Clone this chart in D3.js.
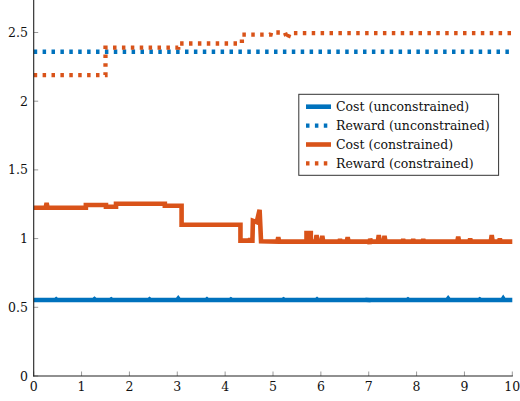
<!DOCTYPE html>
<html><head><meta charset="utf-8">
<script src="https://cdn.jsdelivr.net/npm/d3@7"></script>
<style>body{margin:0;background:#fff;} svg{display:block;} text{font-family:"DejaVu Serif",serif;}</style>
</head><body>
<svg id="c" width="520" height="401"></svg>
<script>
const xTicks = [0,1,2,3,4,5,6,7,8,9,10];
const yTicks = [0,0.5,1,1.5,2,2.5];
const yTickLabels = ["0","0.5","1","1.5","2","2.5"];
const seriesNames = ["Cost (unconstrained)","Reward (unconstrained)","Cost (constrained)","Reward (constrained)"];

const rewardUnconstrained = [[0,2.36],[10,2.36]];
const rewardConstrained = [[0,2.19],[1.50,2.19],[1.50,2.39],[3.02,2.39],[3.02,2.42],[4.35,2.42],[4.35,2.485],[4.95,2.485],[4.96,2.50],[5.25,2.50],[5.30,2.45],[5.35,2.495],[10,2.495]];
const costUnconstrained = [[0,0.553],[0.45,0.553],[0.47,0.558],[0.49,0.553],[1.25,0.553],[1.27,0.559],[1.29,0.553],[1.6,0.553],[1.62,0.557],[1.64,0.553],
 [2.4,0.553],[2.42,0.558],[2.44,0.553],[3.0,0.553],[3.02,0.562],[3.04,0.553],[3.6,0.553],[3.62,0.558],[3.64,0.553],[4.1,0.553],[4.12,0.557],[4.14,0.553],
 [5.2,0.553],[5.22,0.557],[5.24,0.553],[5.9,0.553],[5.92,0.558],[5.94,0.553],[6.97,0.553],[6.98,0.568],[6.99,0.538],[7.0,0.553],[7.8,0.553],[7.82,0.557],[7.84,0.553],
 [8.64,0.553],[8.66,0.562],[8.68,0.553],[9.3,0.553],[9.32,0.557],[9.34,0.553],[9.79,0.553],[9.81,0.563],[9.83,0.553],[10,0.553]];
const costConstrained = [[0,1.225],[0.25,1.225],[0.27,1.26],[0.29,1.225],[1.09,1.225],[1.09,1.245],[1.51,1.245],[1.51,1.232],[1.72,1.232],[1.72,1.254],
 [2.74,1.254],[2.74,1.239],[3.09,1.239],[3.09,1.101],[4.32,1.101],[4.32,0.985],[4.50,0.985],[4.52,1.0],[4.54,0.985],[4.57,0.985],[4.58,1.13],[4.66,1.12],[4.72,1.21],[4.75,0.98],
 [5.09,0.978],[5.11,1.01],[5.13,0.978],[5.70,0.978],[5.70,1.04],[5.79,1.04],[5.79,0.978],[5.89,0.978],[5.91,1.025],[5.93,0.978],[6.01,0.978],[6.03,1.02],[6.05,0.978],
 [6.38,0.978],[6.40,0.995],[6.42,0.978],[6.54,0.978],[6.56,1.01],[6.58,0.978],[7.01,0.978],[7.02,0.96],[7.03,1.0],[7.05,0.978],[7.19,0.978],[7.21,1.025],[7.23,0.978],
 [7.31,0.978],[7.33,1.02],[7.35,0.978],[7.70,0.978],[7.72,0.995],[7.74,0.978],[7.91,0.978],[7.93,0.995],[7.95,0.978],[8.12,0.978],[8.14,0.995],[8.16,0.978],
 [8.85,0.978],[8.87,1.014],[8.89,0.978],[9.10,0.978],[9.12,1.0],[9.14,0.978],[9.55,0.978],[9.57,1.026],[9.59,0.978],[9.72,0.978],[9.74,1.0],[9.76,0.978],[10,0.978]];

const blue = "#0072bd", orange = "#d95319";
const svg = d3.select("#c");
const x = d3.scaleLinear().domain([0,10]).range([33.7,512.3]);
const y = d3.scaleLinear().domain([0,2.75]).range([376,-1.85]);
const line = d3.line().x(d=>x(d[0])).y(d=>y(d[1]));

const g = svg.append("g");
g.selectAll(".xt").data(xTicks).join("line")
  .attr("x1",d=>x(d)).attr("x2",d=>x(d)).attr("y1",376).attr("y2",371.5)
  .attr("stroke","#9a9a9a").attr("stroke-width",1);
g.selectAll(".yt").data(yTicks).join("line")
  .attr("x1",33.7).attr("x2",38.2).attr("y1",d=>y(d)).attr("y2",d=>y(d))
  .attr("stroke","#9a9a9a").attr("stroke-width",1);

const series = [
  {d:costUnconstrained,c:blue,dash:null,w:4.6},
  {d:rewardUnconstrained,c:blue,dash:"3.5,5.4",w:4.3},
  {d:costConstrained,c:orange,dash:null,w:4.6},
  {d:rewardConstrained,c:orange,dash:"3.5,5.4",w:4.3}
];
svg.append("g").selectAll("path").data(series).join("path")
  .attr("d",s=>line(s.d)).attr("fill","none").attr("stroke",s=>s.c)
  .attr("stroke-width",s=>s.w).attr("stroke-dasharray",s=>s.dash)
  .attr("stroke-linejoin","miter").attr("stroke-miterlimit",2);

svg.append("line").attr("x1",33.7).attr("x2",33.7).attr("y1",0).attr("y2",376.5).attr("stroke","#222").attr("stroke-width",1.1);
svg.append("line").attr("x1",33.2).attr("x2",512.8).attr("y1",376).attr("y2",376).attr("stroke","#222").attr("stroke-width",1.1);

svg.append("g").selectAll("text").data(xTicks).join("text")
  .attr("x",d=>x(d)).attr("y",391).attr("text-anchor","middle")
  .attr("font-size",12.5).attr("fill","#111").text(d=>d);
svg.append("g").selectAll("text").data(yTicks).join("text")
  .attr("x",28).attr("y",d=>y(d)+4.5).attr("text-anchor","end")
  .attr("font-size",12.5).attr("fill","#111").text((d,i)=>yTickLabels[i]);

const lg = svg.append("g");
lg.append("rect").attr("x",298.8).attr("y",94.3).attr("width",199.8).attr("height",81)
  .attr("fill","#fff").attr("stroke","#333").attr("stroke-width",1);
const ly = [106.7,125.6,144.5,163.4];
series.forEach((s,i)=>{
  lg.append("line").attr("x1",306).attr("x2",331).attr("y1",ly[i]).attr("y2",ly[i])
    .attr("stroke",s.c).attr("stroke-width",s.w).attr("stroke-dasharray",s.dash);
  lg.append("text").attr("x",336).attr("y",ly[i]+4.5)
    .attr("font-size",12.5).attr("fill","#111").text(seriesNames[i]);
});
</script>
</body></html>
